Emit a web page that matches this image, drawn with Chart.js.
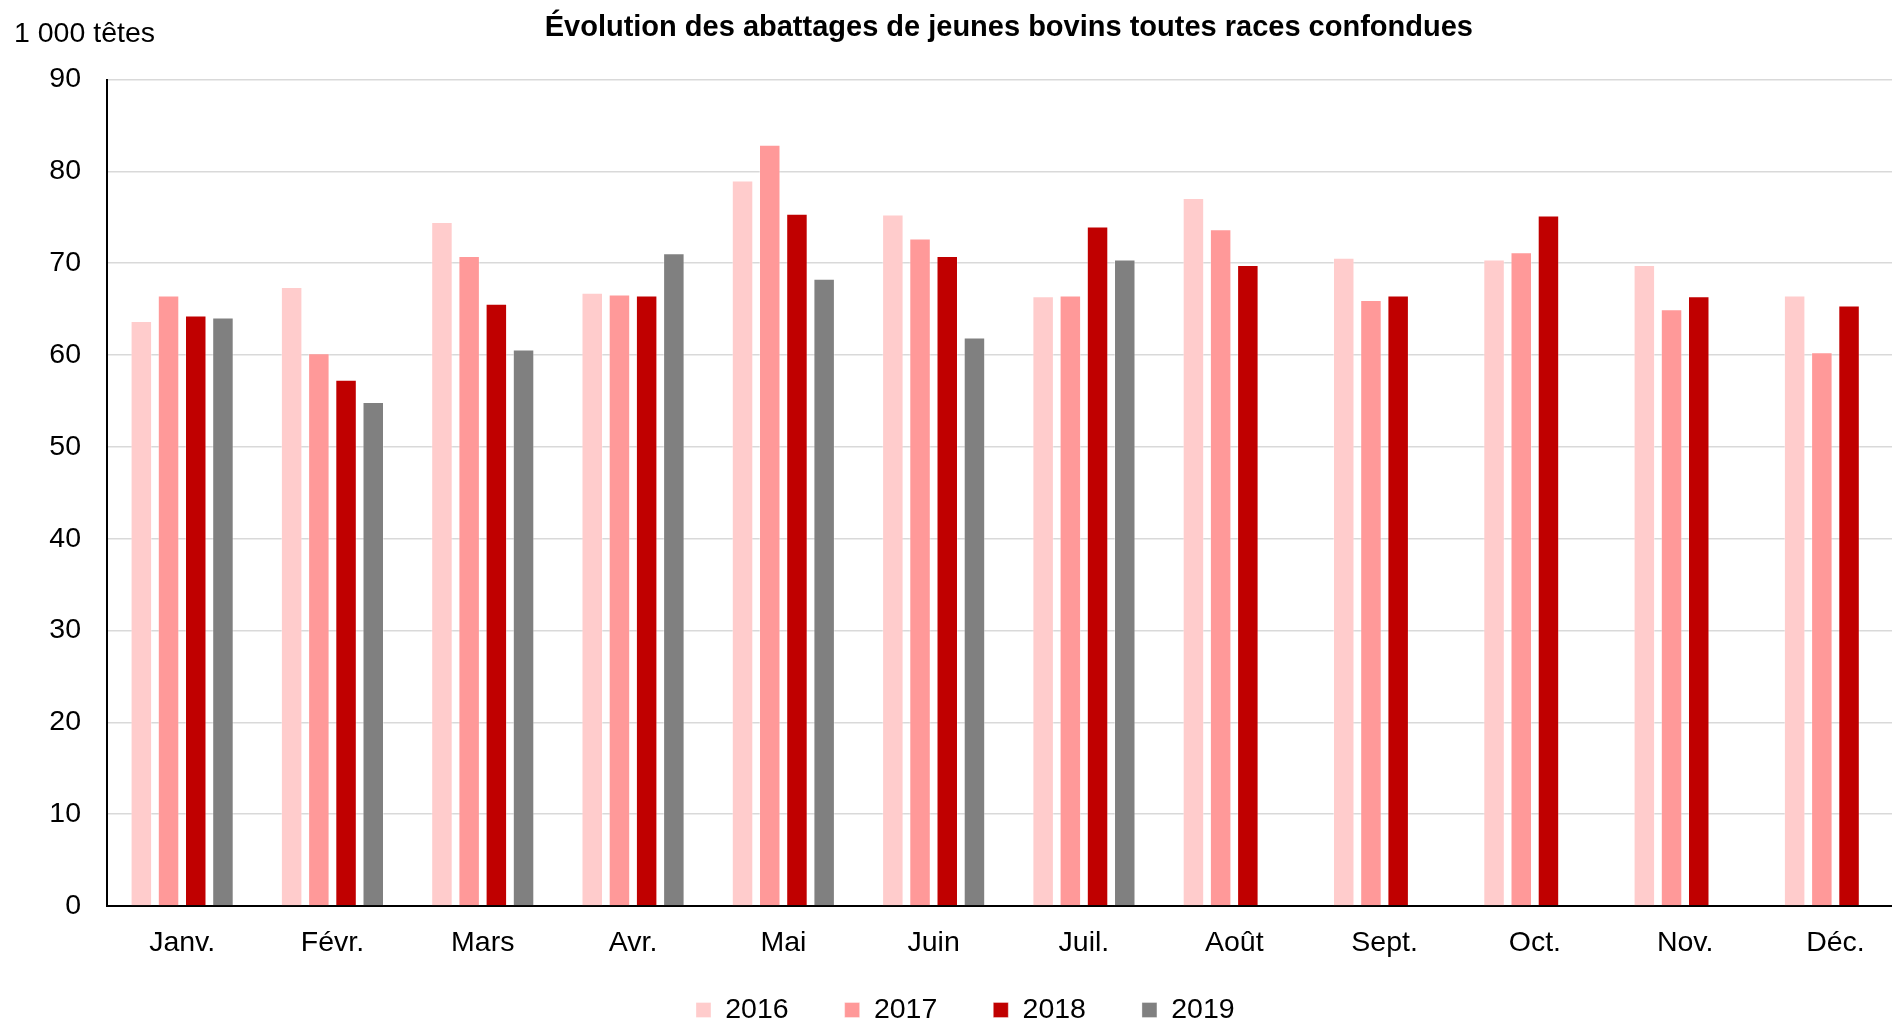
<!DOCTYPE html>
<html>
<head>
<meta charset="utf-8">
<script src="https://cdn.jsdelivr.net/npm/chart.js@4.4.1/dist/chart.umd.min.js"></script>
<style>
  html, body { margin: 0; padding: 0; background: #fff; overflow: hidden; }
  #wrap { position: absolute; left: 0; top: 0; width: 1923px; height: 1061px; }
</style>
</head>
<body>
<div id="wrap"><canvas id="chart" width="1923" height="1061"></canvas></div>
<script>
// Abattages de jeunes bovins, en milliers de têtes
const mois = ['Janv.', 'Févr.', 'Mars', 'Avr.', 'Mai', 'Juin', 'Juil.', 'Août', 'Sept.', 'Oct.', 'Nov.', 'Déc.'];
const annees = ['2016', '2017', '2018', '2019'];

const val2016 = [63.7, 67.4, 74.5, 66.8, 79.0, 75.3, 66.4, 77.1, 70.6, 70.4, 69.8, 66.5];
const val2017 = [66.5, 60.2, 70.8, 66.6, 82.9, 72.7, 66.5, 73.7, 66.0, 71.2, 65.0, 60.3];
const val2018 = [64.3, 57.3, 65.6, 66.5, 75.4, 70.8, 74.0, 69.8, 66.5, 75.2, 66.4, 65.4];
const val2019 = [64.1, 54.9, 60.6, 71.1, 68.3, 61.9, 70.4, null, null, null, null, null];

const yTicks = [0, 10, 20, 30, 40, 50, 60, 70, 80, 90];

const couleurs = ['#FFCCCC', '#FF9999', '#C00000', '#808080'];
const police = 'Liberation Sans, Arial, Helvetica, sans-serif';
const legendePadding = 56;
const legendeY = 1010; // centre vertical de la légende

// titre + unité, dessinés au-dessus de la zone du graphique
const textesPlugin = {
    id: 'textes',
    afterLayout(chart) {
        // la légende remonte un peu, sous les libellés des mois
        const leg = chart.legend;
        if (!leg) return;
        const dy = (leg.top + legendePadding + 14.25) - legendeY;
        leg.top -= dy;
        leg.bottom -= dy;
    },
    afterDraw(chart) {
        const ctx = chart.ctx;
        const area = chart.chartArea;
        ctx.save();
        ctx.fillStyle = '#000';
        ctx.textBaseline = 'middle';
        ctx.font = 'bold 29px ' + police;
        ctx.textAlign = 'center';
        ctx.fillText('Évolution des abattages de jeunes bovins toutes races confondues', (area.left + area.right) / 2, 28);
        ctx.font = '28.5px ' + police;
        ctx.textAlign = 'left';
        ctx.fillText('1 000 têtes', 14, 34);
        ctx.restore();
    }
};

const series = [val2016, val2017, val2018, val2019];

new Chart(document.getElementById('chart'), {
    type: 'bar',
    data: {
        labels: mois,
        datasets: annees.map((a, i) => ({
            label: a,
            data: series[i],
            backgroundColor: couleurs[i],
            borderColor: 'rgba(255,255,255,0.35)',
            borderWidth: 1,
            categoryPercentage: 0.724,
            barPercentage: 0.79
        }))
    },
    options: {
        responsive: false,
        devicePixelRatio: 1,
        animation: false,
        layout: {
            padding: { top: 79.6, left: 20, right: 12.4, bottom: 0 }
        },
        plugins: {
            legend: {
                position: 'bottom',
                labels: {
                    color: '#000',
                    font: { family: police, size: 28.5 },
                    boxWidth: 15,
                    boxHeight: 15,
                    padding: legendePadding
                }
            },
            tooltip: { enabled: false }
        },
        scales: {
            x: {
                grid: { display: false, drawTicks: false },
                border: { display: true, color: '#000', width: 2 },
                ticks: {
                    color: '#000',
                    font: { family: police, size: 28.5 },
                    padding: 20,
                    maxRotation: 0,
                    autoSkip: false
                },
                afterFit(scale) {
                    const leg = scale.chart.legend;
                    scale.height = scale.chart.height - (leg ? leg.height : 0) - 906;
                    scale.paddingLeft = 0;
                    scale.paddingRight = 0;
                }
            },
            y: {
                min: 0,
                max: 90,
                afterBuildTicks(scale) {
                    scale.ticks = yTicks.map(v => ({ value: v }));
                },
                grid: { color: '#D9D9D9', lineWidth: 1.5, drawTicks: false },
                border: { display: true, color: '#000', width: 2 },
                ticks: {
                    color: '#000',
                    font: { family: police, size: 28.5 },
                    padding: 26
                },
                afterFit(scale) {
                    scale.width = 87;
                    scale.paddingTop = 0;
                    scale.paddingBottom = 0;
                }
            }
        }
    },
    plugins: [textesPlugin]
});
</script>
</body>
</html>
